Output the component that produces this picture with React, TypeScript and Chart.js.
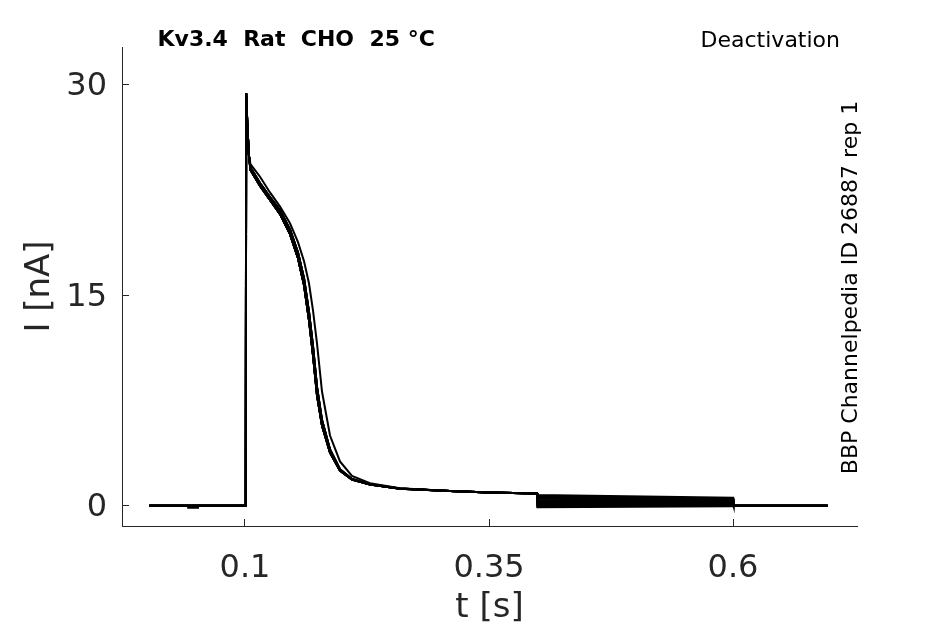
import React, { useEffect, useRef } from "react";
import { Chart, registerables } from "chart.js";

Chart.register(...registerables);

// ---- axes ----
const X_TICKS = [0.1, 0.35, 0.6];
const Y_TICKS = [0, 15, 30];
const X_RANGE = [-0.026, 0.727];
const Y_RANGE = [-1.45, 32.7];

// ---- texts ----
const TITLE_TEXT = "Kv3.4  Rat  CHO  25 °C";
const PROTOCOL_TEXT = "Deactivation";
const SIDE_TEXT = "BBP Channelpedia ID 26887 rep 1";
const X_LABEL = "t [s]";
const Y_LABEL = "I [nA]";

// ---- holding period before the step ----
const BASE_T = [0.002, 0.1008];
const BASE_I = [0, 0];
const DIP_T = [0.002, 0.0416, 0.0418, 0.0516, 0.0518, 0.1008];
const DIP_I = [0, 0, -0.15, -0.15, 0, 0];

// ---- activation spike ----
const SPIKE_T = [0.1012, 0.1025, 0.104];
const SPIKE_I = [29.4, 27.0, 25.0];

// ---- inactivation decay (shared times) ----
const DECAY_T = [
  0.1056, 0.1154, 0.1256, 0.1359, 0.1461, 0.1543, 0.1605, 0.1656, 0.1697,
  0.1738, 0.1789, 0.1871, 0.1973, 0.2096, 0.228, 0.2588, 0.31, 0.35, 0.3992,
];
const DECAY_MAIN = [
  23.93, 22.79, 21.79, 20.79, 19.36, 17.64, 15.71, 13.21, 10.71,
  7.86, 5.71, 3.79, 2.5, 1.86, 1.5, 1.21, 1.04, 0.93, 0.86,
];
const DECAY_B = [
  24.1, 23.0, 22.0, 21.05, 19.7, 18.05, 16.2, 13.8, 11.35,
  8.45, 6.1, 4.0, 2.6, 1.9, 1.52, 1.22, 1.04, 0.93, 0.86,
];
const DECAY_SLOW = [
  24.35, 23.45, 22.33, 21.32, 20.13, 18.79, 17.42, 15.84, 13.9,
  11.56, 8.14, 5.0, 3.15, 2.12, 1.6, 1.24, 1.05, 0.93, 0.86,
];

// ---- tail (deactivation) step ----
const TAIL_ON = 0.3995;
const TAIL_OFF = 0.6;
const BACK_T = 0.6005;
const END_T = 0.697;
const TAIL_START = [0.76, 0.67, 0.58, 0.5, 0.41, 0.32, 0.23, 0.15, 0.06, -0.03, -0.12];
const TAIL_END = [0.57, 0.51, 0.45, 0.39, 0.33, 0.26, 0.2, 0.14, 0.08, 0.01, -0.05];
const DECAY_VARIANT = ["slow", "main", "b", "main", "b", "main", "main", "b", "main", "b", "main"];
const DIP_TRACE = 6;

const FONT = '"DejaVu Sans"';
const AXIS_COLOR = "#262626";

function buildTrace(k: number) {
  const pts: { x: number; y: number }[] = [];
  const bt = k === DIP_TRACE ? DIP_T : BASE_T;
  const bi = k === DIP_TRACE ? DIP_I : BASE_I;
  bt.forEach((t, i) => pts.push({ x: t, y: bi[i] }));
  SPIKE_T.forEach((t, i) => pts.push({ x: t, y: SPIKE_I[i] }));
  const v = DECAY_VARIANT[k];
  const arr = v === "slow" ? DECAY_SLOW : v === "b" ? DECAY_B : DECAY_MAIN;
  DECAY_T.forEach((t, i) => pts.push({ x: t, y: arr[i] }));
  pts.push({ x: TAIL_ON, y: TAIL_START[k] });
  pts.push({ x: TAIL_OFF, y: TAIL_END[k] });
  pts.push({ x: BACK_T, y: 0 });
  pts.push({ x: END_T, y: 0 });
  return pts;
}

const annotationPlugin = {
  id: "annotations",
  afterDraw(chart: any) {
    const ctx = chart.ctx;
    ctx.save();
    ctx.fillStyle = "#000";
    ctx.textBaseline = "alphabetic";
    ctx.font = `bold 22px ${FONT}`;
    ctx.textAlign = "left";
    ctx.fillText(TITLE_TEXT, 157.5, 46);
    ctx.font = `22px ${FONT}`;
    ctx.textAlign = "right";
    ctx.fillText(PROTOCOL_TEXT, 840, 46.5);
    ctx.translate(856.5, 287.5);
    ctx.rotate(-Math.PI / 2);
    ctx.textAlign = "center";
    ctx.fillText(SIDE_TEXT, 0, 0);
    ctx.restore();
  },
};

export default function App() {
  const ref = useRef<HTMLCanvasElement | null>(null);
  useEffect(() => {
    if (!ref.current) return;
    const datasets = TAIL_START.map((_, k) => ({
      data: buildTrace(k),
      borderColor: "#000",
      backgroundColor: "#000",
      borderWidth: 2,
      pointRadius: 0,
      fill: false,
      tension: 0,
    }));
    const chart = new Chart(ref.current, {
      type: "line",
      data: { datasets },
      plugins: [annotationPlugin],
      options: {
        animation: false,
        responsive: false,
        devicePixelRatio: 1,
        layout: { padding: { top: 47, right: 88, left: 0, bottom: 0 } },
        plugins: {
          legend: { display: false },
          tooltip: { enabled: false },
          title: { display: false },
        },
        scales: {
          x: {
            type: "linear",
            position: "bottom",
            min: X_RANGE[0],
            max: X_RANGE[1],
            afterBuildTicks: (s: any) => {
              s.ticks = X_TICKS.map((v) => ({ value: v }));
            },
            afterFit: (s: any) => {
              s.height = 98;
            },
            grid: {
              display: true,
              drawOnChartArea: false,
              drawTicks: true,
              tickLength: -7,
              color: AXIS_COLOR,
              lineWidth: 1,
            },
            border: { display: true, color: AXIS_COLOR, width: 1 },
            ticks: {
              padding: 30.5,
              color: AXIS_COLOR,
              font: { family: FONT, size: 32 },
              maxRotation: 0,
              autoSkip: false,
              callback: (v: any) => String(v),
            },
            title: {
              display: true,
              text: X_LABEL,
              color: AXIS_COLOR,
              font: { family: FONT, size: 34 },
              padding: { top: 0, bottom: -4.4 },
            },
          },
          y: {
            type: "linear",
            position: "left",
            min: Y_RANGE[0],
            max: Y_RANGE[1],
            afterBuildTicks: (s: any) => {
              s.ticks = Y_TICKS.map((v) => ({ value: v }));
            },
            afterFit: (s: any) => {
              s.width = 122;
            },
            grid: {
              display: true,
              drawOnChartArea: false,
              drawTicks: true,
              tickLength: -7,
              color: AXIS_COLOR,
              lineWidth: 1,
            },
            border: { display: true, color: AXIS_COLOR, width: 1 },
            ticks: {
              padding: 22,
              labelOffset: 2,
              color: AXIS_COLOR,
              font: { family: FONT, size: 32 },
              autoSkip: false,
              callback: (v: any) => String(v),
            },
            title: {
              display: true,
              text: Y_LABEL,
              color: AXIS_COLOR,
              font: { family: FONT, size: 34 },
              padding: { top: 19.5, bottom: 0 },
            },
          },
        },
      } as any,
    });
    return () => chart.destroy();
  }, []);
  return (
    <div style={{ position: "fixed", left: 0, top: 0, width: 945, height: 624, background: "#fff" }}>
      <canvas ref={ref} width={945} height={624} style={{ width: 945, height: 624, display: "block" }} />
    </div>
  );
}
